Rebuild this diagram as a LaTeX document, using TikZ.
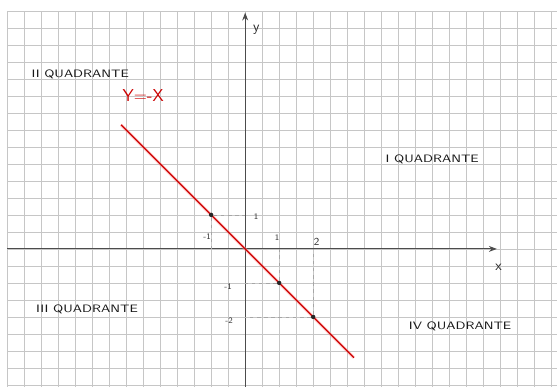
\documentclass[tikz,border=0pt]{standalone}
\usepackage{tikz}
\usetikzlibrary{arrows.meta}

\begin{document}
\begin{tikzpicture}[>=Stealth, font=\sffamily,
    papergrid/.style={gray!45, line width=0.5pt},
    axis/.style={gray!60!black, line width=0.8pt},
    guide/.style={gray!70, dashed, line width=0.5pt},
    redline/.style={red!80!black, line width=1pt},
    dot/.style={circle, fill=black!85, inner sep=1.3pt},
    quad/.style={gray!20!black, font=\sffamily\small, xscale=1.25},
    tick/.style={gray!40!black, font=\sffamily\scriptsize}]
      \useasboundingbox (-7.21,-4.06) rectangle (9.17,7.32);
      \draw[papergrid, step=0.5] (-7,-4.06) grid (9.17,7);
      % axes
      \coordinate (xs) at (-7,0);
      \coordinate (xe) at (7.4,0);
      \coordinate (ys) at (0,-4.06);
      \coordinate (ye) at (0,6.95);
      \draw[axis, ->] (xs) -- (xe);
      \draw[axis, ->] (ys) -- (ye);
      \node[gray!30!black, font=\sffamily\large] (xlab) at (7.45,-0.55) {x};
      \node[gray!30!black, font=\sffamily\large] (ylab) at (0.33,6.45) {y};
      % the line y = -x
      \coordinate (ls) at (-3.65,3.65);
      \coordinate (le) at (3.2,-3.2);
      \draw[red!40, line width=2.5pt, opacity=0.5] (ls) -- (le);
      \draw[redline] (ls) -- (le);
      \node[red!80!black, font=\sffamily\Large] (eq) at (-3.0,4.5) {Y=-X};
      % points and guides
      \foreach \n/\px/\py in {a/-1/1, b/1/-1, c/2/-2} {
        \node[dot] (\n) at (\px,\py) {};
        \coordinate (\n x) at (\px,0);
        \coordinate (\n y) at (0,\py);
        \draw[guide] (\n) -- (\n x);
        \draw[guide] (\n) -- (\n y);
      }
      \node[tick] (tm1) at (-1.12,0.35) {-1};
      \node[tick] (t1) at (0.94,0.32) {1};
      \node[tick, font=\sffamily\small] (t2) at (2.1,0.2) {2};
      \node[tick] (s1) at (0.32,0.94) {1};
      \node[tick] (sm1) at (-0.5,-1.12) {-1};
      \node[tick] (sm2) at (-0.47,-2.1) {-2};
      % quadrants
      \node[quad] (q2) at (-4.85,5.12) {II QUADRANTE};
      \node[quad] (q1) at (5.5,2.62) {I QUADRANTE};
      \node[quad] (q3) at (-4.65,-1.79) {III QUADRANTE};
      \node[quad] (q4) at (6.32,-2.29) {IV QUADRANTE};
\end{tikzpicture}
\end{document}
